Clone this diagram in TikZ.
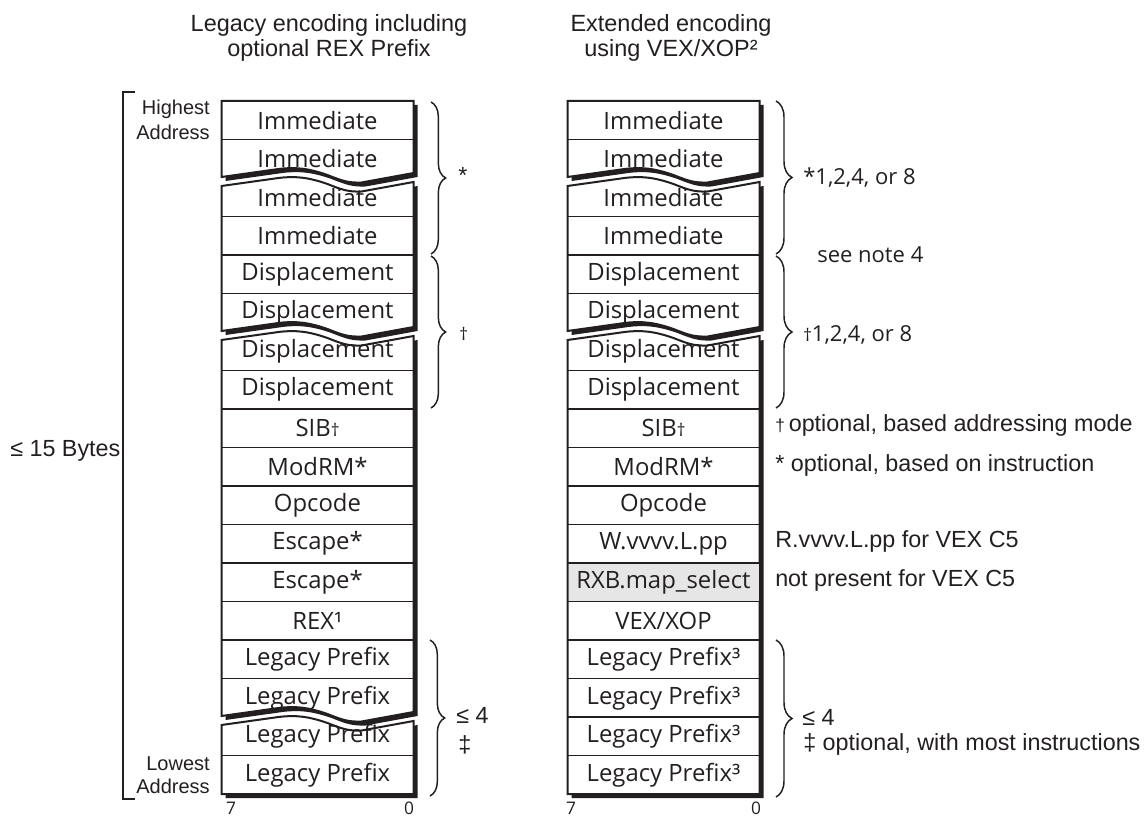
\documentclass[tikz,border=0pt]{standalone}
\usepackage{fontspec}
\setmainfont{Liberation Sans}
\newfontfamily\boxfont{Open Sans}
\usetikzlibrary{decorations.pathreplacing}
\definecolor{ink}{HTML}{231F20}
\definecolor{selgray}{HTML}{E6E6E6}
\newcommand\drawslab[1]{\fill[slabshadow,shift={(4,4)}] #1; \draw[slab] #1;}
\newcommand\smalldag{{\fontsize{13}{13}\selectfont †}}
\begin{document}
\begin{tikzpicture}[x=0.75pt,y=-0.75pt,
  slab/.style={fill=white,draw=ink,line width=1.5pt,line join=miter},
  slabshadow/.style={fill=ink},
  divider/.style={draw=ink,line width=1.4pt},
  cell/.style={font=\boxfont\fontsize{17.9}{20}\selectfont,text=ink,inner sep=0pt},
  ttl/.style={font=\fontsize{17.6}{21}\selectfont,text=ink,inner sep=0pt,anchor=base},
  lbl/.style={font=\fontsize{17.5}{21}\selectfont,text=ink,inner sep=0pt,anchor=base west},
  mlbl/.style={font=\boxfont\fontsize{16.5}{20}\selectfont,text=ink,inner sep=0pt,anchor=base west},
  addr/.style={font=\fontsize{15}{17}\selectfont,text=ink,inner sep=0pt,anchor=base east},
  bit/.style={font=\boxfont\fontsize{13}{15}\selectfont,text=ink,inner sep=0pt,anchor=base},
  brL/.style={decorate,decoration={brace,amplitude=11pt},draw=ink,line width=1.1pt},
  brR/.style={decorate,decoration={brace,amplitude=12pt},draw=ink,line width=1.1pt},
  waveLR/.style 2 args={insert path={-- ([shift={(#1,#2)}]0,-1) -- ([shift={(#1,#2)}]57,-9)
     .. controls ([shift={(#1,#2)}]73,-11) and ([shift={(#1,#2)}]86,-10) .. ([shift={(#1,#2)}]106,-3)
     .. controls ([shift={(#1,#2)}]121,3) and ([shift={(#1,#2)}]127,5) .. ([shift={(#1,#2)}]140,4.5)
     -- ([shift={(#1,#2)}]192,-5)}},
  waveRL/.style 2 args={insert path={-- ([shift={(#1,#2)}]192,-5) -- ([shift={(#1,#2)}]140,4.5)
     .. controls ([shift={(#1,#2)}]127,5) and ([shift={(#1,#2)}]121,3) .. ([shift={(#1,#2)}]106,-3)
     .. controls ([shift={(#1,#2)}]86,-10) and ([shift={(#1,#2)}]73,-11) .. ([shift={(#1,#2)}]57,-9)
     -- ([shift={(#1,#2)}]0,-1)}}
]
\useasboundingbox (0,0) rectangle (1147,816);

% titles
\node[ttl] (titleL1) at (329,32) {Legacy encoding including};
\node[ttl] (titleL2) at (329,57) {optional REX Prefix};
\node[ttl] (titleR1) at (671,32) {Extended encoding};
\node[ttl] (titleR2) at (671,57) {using VEX/XOP²};

% outer bracket
\coordinate (bk1) at (135,92);
\coordinate (bk2) at (123,92);
\coordinate (bk3) at (123,799);
\coordinate (bk4) at (135,799);
\draw[ink,line width=1.4pt] (bk1) -- (bk2) -- (bk3) -- (bk4);
\node[lbl] (bytes) at (10,457) {≤ 15 Bytes};
\node[addr] (hi1) at (210,115) {Highest};
\node[addr] (hi2) at (210,140) {Address};
\node[addr] (lo1) at (210,770) {Lowest};
\node[addr] (lo2) at (210,793) {Address};

% left column slabs
\drawslab{(221.5,101) -- (413.5,101) [waveRL={221.5}{178}] -- cycle}
\drawslab{(221.5,186) [waveLR={221.5}{187}] [waveRL={221.5}{332}] -- cycle}
\drawslab{(221.5,340) [waveLR={221.5}{341}] [waveRL={221.5}{717}] -- cycle}
\drawslab{(221.5,725) [waveLR={221.5}{726}] -- (413.5,794) -- (221.5,794) -- cycle}
% right column slabs
\drawslab{(567.5,101) -- (759.5,101) [waveRL={567.5}{178}] -- cycle}
\drawslab{(567.5,186) [waveLR={567.5}{187}] [waveRL={567.5}{332}] -- cycle}
\drawslab{(567.5,340) [waveLR={567.5}{341}] -- (759.5,794) -- (567.5,794) -- cycle}
\fill[selgray] (568.5,563) rectangle (758.5,601.5);

% dividers
\foreach \yy in {139.5,216.5,255,293.5,370.5,409,447.5,486,524.5,563,601.5,640,678.5,755.5}
  \draw[divider] (221.5,\yy) -- (413.5,\yy);
\foreach \yy in {139.5,216.5,255,293.5,370.5,409,447.5,486,524.5,563,601.5,640,678.5,717,755.5}
  \draw[divider] (567.5,\yy) -- (759.5,\yy);

% cell texts
\foreach \t [count=\i] in {Immediate,Immediate,Immediate,Immediate,Displacement,Displacement,Displacement,Displacement,SIB\smalldag,ModRM*,Opcode,Escape*,Escape*,REX¹,Legacy Prefix,Legacy Prefix,Legacy Prefix,Legacy Prefix}
  \node[cell] (l\i) at (317.5,{101+38.5*(\i-0.5)}) {\t};
\foreach \t [count=\i] in {Immediate,Immediate,Immediate,Immediate,Displacement,Displacement,Displacement,Displacement,SIB\smalldag,ModRM*,Opcode,W.vvvv.L.pp,RXB.map\_select,VEX/XOP,Legacy Prefix³,Legacy Prefix³,Legacy Prefix³,Legacy Prefix³}
  \node[cell] (r\i) at (663.5,{101+38.5*(\i-0.5)}) {\t};

% bit numbers
\node[bit] (lb7) at (231,814) {7};
\node[bit] (lb0) at (409,814) {0};
\node[bit] (rb7) at (571,814) {7};
\node[bit] (rb0) at (756,814) {0};

% left braces
\coordinate (lia) at (431,102); \coordinate (lib) at (431,254);
\coordinate (lda) at (431,256); \coordinate (ldb) at (431,408);
\coordinate (lpa) at (430,640); \coordinate (lpb) at (430,796);
\draw[brL] (lia) -- (lib);
\draw[brL] (lda) -- (ldb);
\draw[brL] (lpa) -- (lpb);
\node[lbl] (lstar) at (458,184) {*};
\node[mlbl] (ldag) at (459,341) {\smalldag};
\node[lbl] (lle4) at (456,723) {≤ 4};
\node[lbl] (lddag) at (458,752) {‡};

% right braces
\coordinate (ria) at (776,101); \coordinate (rib) at (776,254);
\coordinate (rda) at (776,256); \coordinate (rdb) at (776,408);
\coordinate (rpa) at (776,640); \coordinate (rpb) at (776,797);
\draw[brR] (ria) -- (rib);
\draw[brR] (rda) -- (rdb);
\draw[brR] (rpa) -- (rpb);
\node[mlbl] (rimm) at (803,185) {*1,2,4, or 8};
\node[mlbl] (rnote) at (817,263) {see note 4};
\node[mlbl] (rdisp) at (803,342) {\smalldag1,2,4, or 8};
\node[lbl] (rle4) at (802,725) {≤ 4};
\node[lbl] (rddag) at (803,750) {‡ optional, with most instructions};

% notes
\node[lbl] (n1) at (775,432) {\smalldag\,optional, based addressing mode};
\node[lbl] (n2) at (775,472) {* optional, based on instruction};
\node[lbl] (n3) at (775,548) {R.vvvv.L.pp for VEX C5};
\node[lbl] (n4) at (775,587) {not present for VEX C5};
\end{tikzpicture}
\end{document}
